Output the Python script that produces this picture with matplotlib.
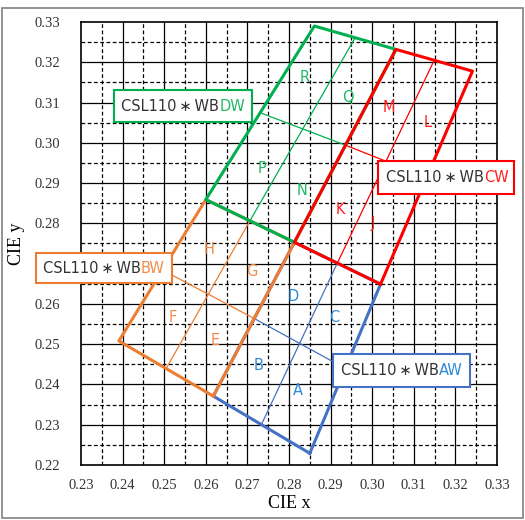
import matplotlib.pyplot as plt
from matplotlib.patches import Rectangle

# bin outlines (CIE x, CIE y)
aw_x = [0.2850, 0.3020, 0.2813, 0.2618, 0.2850]
aw_y = [0.2229, 0.2649, 0.2753, 0.2371, 0.2229]
bw_x = [0.2618, 0.2813, 0.2600, 0.2391, 0.2618]
bw_y = [0.2371, 0.2753, 0.2859, 0.2508, 0.2371]
cw_x = [0.3020, 0.3241, 0.3057, 0.2813, 0.3020]
cw_y = [0.2649, 0.3178, 0.3232, 0.2753, 0.2649]
dw_x = [0.2813, 0.3057, 0.2861, 0.2600, 0.2813]
dw_y = [0.2753, 0.3232, 0.3290, 0.2859, 0.2753]

# thin sub-bin dividers: (x pair, y pair, colour key)
dividers = [
    ([0.2734, 0.2917], [0.2301, 0.2703], 'A'),
    ([0.2716, 0.2935], [0.2564, 0.2440], 'A'),
    ([0.2505, 0.2707], [0.2440, 0.2808], 'B'),
    ([0.2496, 0.2716], [0.2684, 0.2564], 'B'),
    ([0.2917, 0.3149], [0.2703, 0.3205], 'C'),
    ([0.2936, 0.3131], [0.2994, 0.2914], 'C'),
    ([0.2707, 0.2959], [0.2808, 0.3261], 'D'),
    ([0.2730, 0.2936], [0.3075, 0.2994], 'D'),
]

# sub-bin letters
letters = ['A', 'B', 'C', 'D', 'E', 'F', 'G', 'H',
           'J', 'K', 'L', 'M', 'N', 'P', 'Q', 'R']
letter_x = [0.2822, 0.2728, 0.2908, 0.2810, 0.2622, 0.2521, 0.2711, 0.2608,
            0.3002, 0.2923, 0.3134, 0.3040, 0.2831, 0.2735, 0.2942, 0.2838]
letter_y = [0.2384, 0.2446, 0.2565, 0.2619, 0.2510, 0.2565, 0.2681, 0.2736,
            0.2800, 0.2835, 0.3051, 0.3088, 0.2882, 0.2937, 0.3113, 0.3163]
letter_grp = ['A'] * 4 + ['B'] * 4 + ['C'] * 4 + ['D'] * 4

# label boxes: x0, x1, y0, y1
box_names = ['AW', 'BW', 'CW', 'DW']
box_ext = [
    (0.2906, 0.3235, 0.2394, 0.2475),
    (0.2191, 0.2519, 0.2651, 0.2726),
    (0.3015, 0.3342, 0.2874, 0.2955),
    (0.2379, 0.2711, 0.3051, 0.3131),
]

line_col = {'A': '#4472C4', 'B': '#ED7D31', 'C': '#FF0000', 'D': '#00B050'}
text_col = {'A': '#2E8AD8', 'B': '#F08C4A', 'C': '#FF2020', 'D': '#22B864'}

fig = plt.figure(figsize=(5.25, 5.2), dpi=100)
ax = fig.add_axes([0.1543, 0.1058, 0.7924, 0.8519])

# grid
for v in [0.235 + 0.01 * i for i in range(10)]:
    ax.axvline(v, color='black', lw=0.9, ls=(0, (3, 2)), zorder=1)
for v in [0.225 + 0.01 * i for i in range(11)]:
    ax.axhline(v, color='black', lw=0.9, ls=(0, (3, 2)), zorder=1)
for v in [0.24 + 0.01 * i for i in range(9)]:
    ax.axvline(v, color='black', lw=0.9, zorder=1)
for v in [0.23 + 0.01 * i for i in range(10)]:
    ax.axhline(v, color='black', lw=0.9, zorder=1)

for xs, ys, k in dividers:
    ax.plot(xs, ys, color=line_col[k], lw=0.9, zorder=2)

ax.plot(aw_x, aw_y, color=line_col['A'], lw=2.2, zorder=3)
ax.plot(bw_x, bw_y, color=line_col['B'], lw=2.2, zorder=3)
ax.plot(dw_x, dw_y, color=line_col['D'], lw=2.2, zorder=3)
ax.plot(cw_x, cw_y, color=line_col['C'], lw=2.2, zorder=3)

for s, x, y, g in zip(letters, letter_x, letter_y, letter_grp):
    ax.text(x, y, s, color=text_col[g], fontsize=10.5, ha='center', va='center',
            family='DejaVu Sans', zorder=4)

for name, (x0, x1, y0, y1), k in zip(box_names, box_ext, ['A', 'B', 'C', 'D']):
    ax.add_patch(Rectangle((x0, y0), x1 - x0, y1 - y0, facecolor='white',
                           edgecolor=line_col[k], lw=1.5, zorder=5, clip_on=False))
    t = ax.text(x0 + 0.0018, (y0 + y1) / 2, 'CSL110\u2009\u2217\u2009WB', color='#333333',
                fontsize=10.5, ha='left', va='center', family='DejaVu Sans', zorder=6)
    ax.annotate(name, xy=(1, 0), xycoords=t, va='bottom', ha='left',
                color=text_col[k], fontsize=10.5, family='DejaVu Sans', zorder=6,
                annotation_clip=False)

ax.set_xlim(0.23, 0.33)
ax.set_ylim(0.22, 0.33)
ax.set_xticks([0.23 + 0.01 * i for i in range(11)])
ax.set_yticks([0.22 + 0.01 * i for i in range(12)])
ax.set_xticklabels(['%.2f' % (0.23 + 0.01 * i) for i in range(11)],
                   family='Liberation Serif', fontsize=10.5, color='#333333')
ax.set_yticklabels(['%.2f' % (0.22 + 0.01 * i) for i in range(12)],
                   family='Liberation Serif', fontsize=10.5, color='#333333')
ax.tick_params(axis='x', length=0, pad=10)
ax.tick_params(axis='y', length=0, pad=15)
for sp in ax.spines.values():
    sp.set_linewidth(1.2)
ax.set_xlabel('CIE x', family='Liberation Serif', fontsize=13, labelpad=2)
ax.set_ylabel('CIE y', family='Liberation Serif', fontsize=13, labelpad=7)

fig.add_artist(Rectangle((0.004, 0.004), 0.992, 0.98, transform=fig.transFigure,
                         fill=False, edgecolor='#808080', lw=1.2))

fig.savefig('out.png', dpi=100)
